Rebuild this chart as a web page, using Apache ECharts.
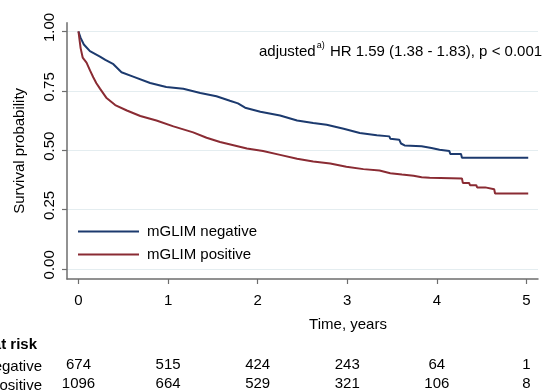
<!DOCTYPE html>
<html><head><meta charset="utf-8">
<script src="https://cdn.jsdelivr.net/npm/echarts@6/dist/echarts.min.js"></script>
<style>html,body{margin:0;padding:0;background:#fff}#c{width:543px;height:391px}</style>
</head><body><div id="c"></div>
<script>
const xTicks = [0, 1, 2, 3, 4, 5];
const yTicks = [0, 0.25, 0.5, 0.75, 1];
const seriesNames = ['mGLIM negative', 'mGLIM positive'];
// Kaplan-Meier estimates (paired times mark the visible drops)
const negTime = [0,0.024,0.06,0.128,0.24,0.30,0.39,0.48,0.61,0.80,0.98,1.17,1.36,1.54,1.69,1.78,1.86,2.03,2.25,2.44,2.62,2.77,2.96,3.14,3.33,3.47,3.48,3.58,3.60,3.64,3.66,3.83,3.84,3.94,3.95,4.03,4.04,4.14,4.15,4.27,4.28,5.02];
const negSurv = [1,0.973,0.945,0.917,0.894,0.88,0.862,0.828,0.81,0.783,0.766,0.759,0.741,0.727,0.708,0.697,0.679,0.662,0.646,0.625,0.614,0.607,0.59,0.572,0.563,0.558,0.548,0.544,0.528,0.520,0.516,0.516,0.509,0.509,0.502,0.502,0.496,0.496,0.484,0.484,0.468,0.468];
const posTime = [0,0.012,0.024,0.047,0.09,0.13,0.165,0.20,0.24,0.31,0.41,0.54,0.69,0.87,1.06,1.28,1.43,1.58,1.73,1.88,2.06,2.25,2.44,2.62,2.81,2.99,3.18,3.36,3.48,3.61,3.74,3.83,3.92,4.28,4.29,4.36,4.37,4.44,4.45,4.54,4.55,4.64,4.65,5.02];
const posSurv = [1,0.965,0.93,0.89,0.869,0.835,0.807,0.782,0.759,0.721,0.69,0.667,0.644,0.625,0.60,0.575,0.552,0.534,0.521,0.507,0.496,0.48,0.464,0.452,0.444,0.43,0.42,0.414,0.403,0.397,0.392,0.386,0.384,0.381,0.362,0.362,0.352,0.352,0.343,0.343,0.335,0.335,0.317,0.317];
const negAtRisk = [674, 515, 424, 243, 64, 1];
const posAtRisk = [1096, 664, 529, 321, 106, 8];
const riskTitle = 'Number at risk';
const xTitle = 'Time, years';
const yTitle = 'Survival probability';

const FONT = '"Liberation Sans", Arial, Helvetica, sans-serif';
const X_MIN = -0.128, X_MAX = 5.129;
const chart = echarts.init(document.getElementById('c'), null, {renderer: 'canvas'});
const zip = (a, b) => a.map((v, i) => [v, b[i]]);

function riskAxis(values, offset) {
  return {
    type: 'value', position: 'bottom', min: X_MIN, max: X_MAX, offset: offset,
    axisLine: {show: false}, axisTick: {show: false}, splitLine: {show: false},
    axisLabel: {
      customValues: xTicks, margin: 14, fontSize: 15, color: '#000', fontFamily: FONT,
      formatter: v => { const i = xTicks.indexOf(Math.round(v)); return i >= 0 ? String(values[i]) : ''; }
    }
  };
}

chart.setOption({
  animation: false,
  grid: {left: 67, right: 5, top: 22.7, bottom: 107, containLabel: false},
  xAxis: [{
    type: 'value', min: X_MIN, max: X_MAX,
    axisLine: {show: true, onZero: false, lineStyle: {color: '#6e6e6e', width: 1.5}},
    axisTick: {show: true, customValues: xTicks, length: 5, lineStyle: {color: '#6e6e6e', width: 1.2}},
    axisLabel: {customValues: xTicks, margin: 14, fontSize: 15, color: '#000', fontFamily: FONT},
    splitLine: {show: false}
  }, riskAxis(negAtRisk, 64), riskAxis(posAtRisk, 83)],
  yAxis: {
    type: 'value', min: -0.043, max: 1.037,
    name: yTitle, nameLocation: 'middle', nameRotate: 90, nameGap: 40,
    nameTextStyle: {fontSize: 15, color: '#000', fontFamily: FONT},
    axisLine: {show: true, onZero: false, lineStyle: {color: '#6e6e6e', width: 1.5}},
    axisTick: {show: true, customValues: yTicks, length: 5, lineStyle: {color: '#6e6e6e', width: 1.2}},
    axisLabel: {customValues: yTicks, rotate: 90, margin: 10, fontSize: 15, color: '#000', fontFamily: FONT,
      padding: [0, 0, 0, 8], formatter: v => v.toFixed(2)},
    splitLine: {show: false}
  },
  legend: {
    orient: 'vertical', left: 78, top: 224, padding: 0, itemGap: 8,
    icon: 'rect', itemWidth: 61, itemHeight: 2, data: seriesNames,
    textStyle: {fontSize: 15, color: '#000', fontFamily: FONT, padding: [0, 0, 0, 3]}
  },
  series: [
    {name: seriesNames[0], type: 'line', symbol: 'none', data: zip(negTime, negSurv),
      color: '#1c3a6e', lineStyle: {width: 2, color: '#1c3a6e'},
      markLine: {silent: true, symbol: 'none', label: {show: false}, z: 0,
        lineStyle: {color: '#e4edf0', width: 1.2, type: 'solid'},
        data: yTicks.map(v => ({yAxis: v}))}},
    {name: seriesNames[1], type: 'line', symbol: 'none', data: zip(posTime, posSurv),
      color: '#8a2b33', lineStyle: {width: 2, color: '#8a2b33'}}
  ],
  graphic: [
    {type: 'text', left: 259, top: 41, style: {
      text: '{a|adjusted}{s|a)}{a| HR 1.59 (1.38 - 1.83), p < 0.001}',
      rich: {a: {fontSize: 15, fontFamily: FONT, fill: '#000', verticalAlign: 'bottom', lineHeight: 18},
             s: {fontSize: 9, fontFamily: FONT, fill: '#000', verticalAlign: 'top', lineHeight: 18, padding: [0, 1, 8, 1]}}}},
    {type: 'text', x: 348, y: 325, style: {text: xTitle, fontSize: 15, fontFamily: FONT, fill: '#000', align: 'center', verticalAlign: 'middle'}},
    {type: 'text', x: 37, y: 345, style: {text: riskTitle, fontSize: 15, fontWeight: 'bold', fontFamily: FONT, fill: '#000', align: 'right', verticalAlign: 'middle'}},
    {type: 'text', x: 42, y: 367, style: {text: seriesNames[0], fontSize: 15, fontFamily: FONT, fill: '#000', align: 'right', verticalAlign: 'middle'}},
    {type: 'text', x: 42, y: 386, style: {text: seriesNames[1], fontSize: 15, fontFamily: FONT, fill: '#000', align: 'right', verticalAlign: 'middle'}}
  ]
});
</script></body></html>
